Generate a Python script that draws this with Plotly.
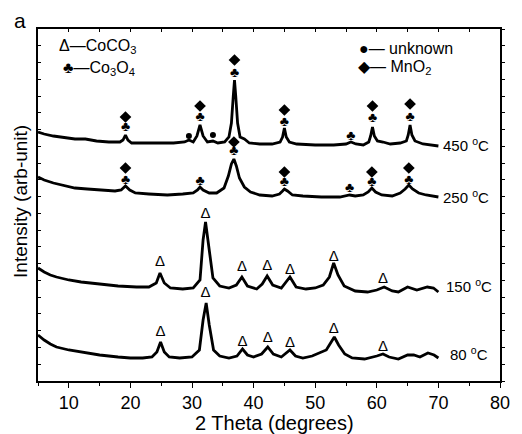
import plotly.graph_objects as go

# ---------------- data (2θ in degrees, intensity in arbitrary units) ----------------
tt450 = [5, 6, 7.5, 9, 11, 12.7, 14.5, 16.5, 18.3, 18.8, 19.2, 19.6, 20.2, 21.5, 24, 27, 28.8, 29.5, 30.2, 30.8,
         31.3, 31.8, 32.5, 33.4, 34.2, 35.3, 36.0, 36.4, 36.7, 36.9, 37.1, 37.4, 37.8, 38.5, 39.3, 41, 43, 44.3,
         44.7, 45.0, 45.3, 45.8, 47, 50, 53, 55.0, 55.8, 56.6, 57.8, 58.7, 59.0, 59.3, 59.6, 60.1, 61.0, 62.2,
         63.8, 64.8, 65.1, 65.4, 65.7, 66.2, 67.5, 70]
I450 = [249, 247, 245, 244, 242, 242, 240, 239, 239, 241, 246, 241, 238, 238, 238, 238, 239, 241, 239, 245,
        256, 245, 239, 240, 238, 239, 244, 258, 285, 301, 285, 258, 244, 242, 238, 237, 237, 239, 244, 253,
        244, 239, 237, 236, 236, 237, 239, 237, 236, 239, 245, 254, 245, 240, 239, 237, 238, 240, 246, 256,
        246, 240, 237, 235]

tt250 = [5, 6, 7.5, 9, 11, 13, 15.5, 17.5, 18.5, 19.2, 19.9, 20.8, 23, 26, 28.5, 30.2, 30.9, 31.3, 31.8, 32.8,
         34, 35.2, 35.9, 36.4, 36.8, 37.2, 37.7, 38.5, 39.5, 41, 43, 44.2, 44.7, 45.0, 45.5, 46.3, 48, 51, 54,
         55.6, 56.5, 57.8, 58.6, 59.2, 59.8, 60.8, 62.5, 63.8, 64.6, 65.2, 65.8, 66.8, 68, 70]
I250 = [204, 201, 198, 196, 193, 192, 191, 190, 191, 195, 191, 188, 187, 186, 187, 188, 191, 194, 191, 188,
        188, 193, 205, 217, 222, 215, 203, 194, 189, 186, 185, 187, 190, 192, 190, 186, 185, 184, 184,
        186, 185, 186, 189, 193, 189, 186, 185, 188, 192, 196, 192, 188, 186, 184]

tt150 = [5, 6, 7, 8, 10, 12, 15, 18, 21, 23, 24.2, 24.8, 25.5, 26.5, 28.5, 30.2, 31.3, 31.8, 32.2, 32.7, 33.4,
         34.5, 36, 37.2, 38.1, 39, 40.5, 41.4, 42.2, 43.1, 44.5, 45.9, 46.9, 48.5, 50, 51.3, 52.3, 53.0, 53.7,
         54.7, 56.5, 58.5, 60, 61.2, 62.5, 63.5, 65, 66.5, 68.2, 69.2, 70]
I150 = [113, 109, 106, 104, 101, 99, 97, 95, 94, 94, 98, 108, 98, 93, 92, 93, 101, 141, 159, 136, 103,
        95, 93, 96, 104, 95, 92, 97, 105, 96, 93, 104, 94, 92, 93, 96, 104, 118, 106,
        95, 90, 89, 91, 94, 90, 89, 94, 91, 94, 93, 89]

tt80 = [5, 6, 7, 8, 10, 12, 15, 18, 20, 22, 23.5, 24.3, 24.9, 25.5, 26.3, 28, 30, 31.2, 31.8, 32.3, 32.8, 33.5,
        34.5, 36, 37.3, 38.2, 39.0, 40, 41.3, 42.3, 43.2, 44.5, 45.9, 46.8, 48, 49.5, 50.7, 51.8, 52.5, 53.1,
        53.8, 54.8, 56, 58, 60, 61, 62, 63.5, 65, 66, 67, 68.3, 69.3, 70]
I80 = [46, 41, 37, 34, 31, 29, 26, 24, 23, 23, 24, 29, 39, 29, 24, 23, 24, 31, 61, 78, 56, 31,
       25, 23, 25, 32, 26, 24, 27, 34, 27, 24, 31, 25, 23, 25, 28, 31, 38, 44,
       36, 27, 23, 22, 25, 27, 24, 22, 26, 26, 24, 28, 26, 23]

# phase markers (2θ, intensity)
coco3_x = [24.8, 32.2, 38.1, 42.2, 45.9, 53.0, 61.0, 24.9, 32.2, 38.2, 42.3, 45.9, 53.0, 61.0]
coco3_y = [119, 167, 114, 115, 111, 124, 102, 49, 88, 39, 43, 38, 52, 34]
co3o4_x = [19.2, 31.3, 36.9, 45.0, 55.8, 59.3, 65.4, 19.2, 31.3, 36.8, 45.0, 55.6, 59.2, 65.2]
co3o4_y = [254, 264, 308, 259, 245, 263, 264, 201, 200, 230, 199, 193, 199, 201]
mno2_x = [19.2, 31.3, 36.9, 45.0, 59.3, 65.4, 19.2, 36.8, 45.0, 59.2, 65.2]
mno2_y = [264, 275, 321, 271, 275, 277, 213, 239, 209, 209, 213]
unk_x = [29.5, 33.4]
unk_y = [245, 246]

curve_labels = ["450 <sup>o</sup>C", "250 <sup>o</sup>C", "150 <sup>o</sup>C", "80 <sup>o</sup>C"]
label_y = [237, 185, 96, 28]

FONT = "Liberation Sans, Arial, sans-serif"
YMAX = 352

fig = go.Figure()
for xs, ys in [(tt450, I450), (tt250, I250), (tt150, I150), (tt80, I80)]:
    fig.add_trace(go.Scatter(x=xs, y=ys, mode="lines", line=dict(color="black", width=2.8),
                             showlegend=False, hoverinfo="skip"))

def add_text_markers(xs, ys, sym, size):
    fig.add_trace(go.Scatter(x=xs, y=ys, mode="text", text=[sym] * len(xs),
                             textposition="middle center",
                             textfont=dict(family=FONT, size=size, color="black"),
                             showlegend=False, hoverinfo="skip"))

def add_symbol_markers(xs, ys, symbol, size):
    fig.add_trace(go.Scatter(x=xs, y=ys, mode="markers",
                             marker=dict(symbol=symbol, size=size, color="black", line=dict(width=0)),
                             showlegend=False, hoverinfo="skip"))

add_text_markers(coco3_x, coco3_y, "Δ", 15)
add_text_markers(co3o4_x, co3o4_y, "♣", 14)
add_symbol_markers(mno2_x, mno2_y, "diamond", 9)
add_symbol_markers(unk_x, unk_y, "circle", 6)

# invisible trace to bring in the mirrored (top / right) axes
fig.add_trace(go.Scatter(x=[5], y=[0], xaxis="x2", yaxis="y2", mode="markers",
                         marker=dict(opacity=0), showlegend=False, hoverinfo="skip"))

ann = []
label_x = [0.8726, 0.8726, 0.8790, 0.8875]
for t, x, y in zip(curve_labels, label_x, label_y):
    ann.append(dict(x=x, xref="paper", y=y, yref="y", text=t, showarrow=False,
                    xanchor="left", yanchor="middle", font=dict(family=FONT, size=15, color="black")))

legend_items = [
    ("Δ—CoCO<sub>3</sub>", 0.042, 0.949),
    ("♣—Co<sub>3</sub>O<sub>4</sub>", 0.050, 0.889),
    ("●— unknown", 0.690, 0.946),
    ("◆— MnO<sub>2</sub>", 0.688, 0.892),
]
for t, x, y in legend_items:
    ann.append(dict(x=x, xref="paper", y=y, yref="paper", text=t, showarrow=False,
                    xanchor="left", yanchor="middle", font=dict(family=FONT, size=16, color="black")))

ann.append(dict(x=-0.057, xref="paper", y=1.025, yref="paper", text="a", showarrow=False,
                xanchor="left", yanchor="middle", font=dict(family=FONT, size=21, color="black")))
ann.append(dict(x=0.512, xref="paper", y=-0.118, yref="paper", text="2 Theta (degrees)", showarrow=False,
                xanchor="center", yanchor="middle", font=dict(family=FONT, size=20, color="black")))
ann.append(dict(x=-0.038, xref="paper", y=0.51, yref="paper", text="Intensity (arb-unit)", showarrow=False,
                textangle=-90, xanchor="center", yanchor="middle",
                font=dict(family=FONT, size=19, color="black")))

axis_common = dict(showline=True, linecolor="black", linewidth=1.5, showgrid=False, zeroline=False,
                   tickcolor="black", tickwidth=1.2)

fig.update_layout(
    width=522, height=434,
    margin=dict(l=38, r=13, t=29, b=53),
    paper_bgcolor="white", plot_bgcolor="white",
    showlegend=False,
    annotations=ann,
    xaxis=dict(range=[5, 80], tick0=0, dtick=10, ticks="outside", ticklen=5,
               minor=dict(dtick=5, tick0=0, ticks="outside", ticklen=3, tickcolor="black"),
               tickfont=dict(family=FONT, size=18, color="black"), **axis_common),
    xaxis2=dict(range=[5, 80], overlaying="x", side="top", anchor="y2", tick0=0, dtick=5,
                ticks="inside", ticklen=3, showticklabels=False, **axis_common),
    yaxis=dict(range=[0, YMAX], tick0=0, dtick=YMAX / 21, ticks="inside", ticklen=3,
               showticklabels=False, **axis_common),
    yaxis2=dict(range=[0, YMAX], overlaying="y", side="right", anchor="x2", tick0=0, dtick=YMAX / 21,
                ticks="outside", ticklen=3, showticklabels=False, **axis_common),
)

fig.write_html("out.html")
